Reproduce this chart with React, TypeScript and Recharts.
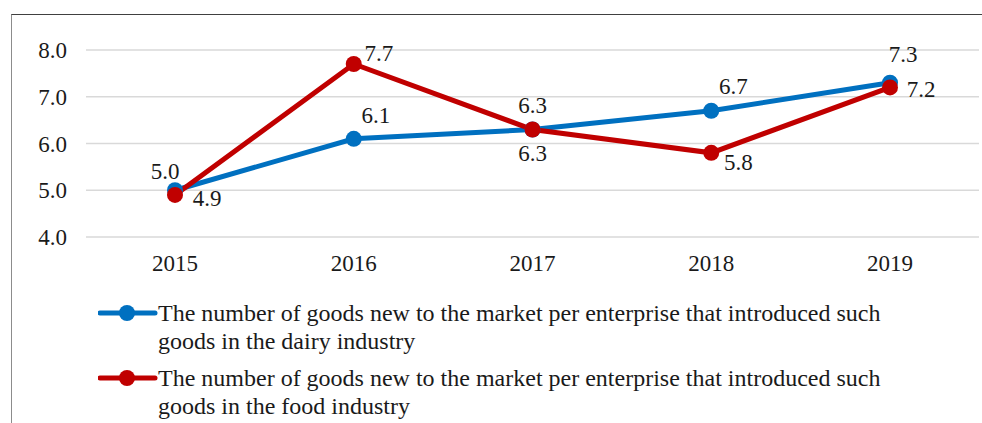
import { LineChart, Line, XAxis, YAxis, CartesianGrid, LabelList } from 'recharts';

const years = ['2015', '2016', '2017', '2018', '2019'];
const dairy = [5.0, 6.1, 6.3, 6.7, 7.3];
const food = [4.9, 7.7, 6.3, 5.8, 7.2];
const yTicks = [4, 5, 6, 7, 8];

const dairyName =
    'The number of goods new to the market per enterprise that introduced such goods in the dairy industry';
const foodName =
    'The number of goods new to the market per enterprise that introduced such goods in the food industry';

const BLUE = '#0070C0';
const RED = '#C00000';
const FONT = 'Liberation Serif, DejaVu Serif';
const TEXT = '#1a1a1a';

const data = years.map((year, i) => ({ year, dairy: dairy[i], food: food[i] }));

// where each value label sits relative to its point
const dairyOffsets = [
    [-10, -19],
    [22, -23],
    [0, -24],
    [22, -24],
    [13, -28],
];
const foodOffsets = [
    [32, 4],
    [25, -11],
    [0, 24],
    [27, 10],
    [31, 2],
];

const makeLabel = (offsets: number[][]) => (props: any) => {
    const { x, y, value, index } = props;
    const [dx, dy] = offsets[index] || [0, -20];
    return (
        <text
            x={x + dx}
            y={y + dy}
            textAnchor="middle"
            dominantBaseline="central"
            fontFamily={FONT}
            fontSize={23}
            fill={TEXT}
        >
            {Number(value).toFixed(1)}
        </text>
    );
};

const LegendItem = ({ color, text }: { color: string; text: string }) => (
    <div style={{ display: 'flex', alignItems: 'flex-start', marginBottom: 9 }}>
        <svg width={60} height={28} style={{ flex: '0 0 auto' }}>
            <line x1={2} y1={14} x2={57} y2={14} stroke={color} strokeWidth={5} strokeLinecap="round" />
            <circle cx={29} cy={14} r={8} fill={color} />
        </svg>
        <div style={{ width: 735, lineHeight: '28px' }}>{text}</div>
    </div>
);

export default function App() {
    return (
        <div
            style={{
                position: 'absolute',
                left: 0,
                top: 0,
                width: 982,
                height: 423,
                overflow: 'hidden',
                background: '#fff',
            }}
        >
            <div
                style={{
                    position: 'absolute',
                    left: 11,
                    top: 14,
                    width: 1000,
                    height: 500,
                    borderLeft: '1px solid #8c8c8c',
                    borderTop: '1px solid #404040',
                }}
            />
            <div style={{ position: 'absolute', left: 0, top: 0 }}>
                <LineChart
                    width={982}
                    height={423}
                    data={data}
                    margin={{ top: 50, right: 3, left: 0, bottom: 156 }}
                >
                    <CartesianGrid vertical={false} stroke="#d9d9d9" strokeWidth={1.5} />
                    <XAxis
                        dataKey="year"
                        axisLine={false}
                        tickLine={false}
                        tickSize={0}
                        tickMargin={18}
                        height={30}
                        padding={{ left: 89, right: 89 }}
                        tick={{ fontFamily: FONT, fontSize: 23, fill: TEXT }}
                    />
                    <YAxis
                        domain={[4, 8]}
                        ticks={yTicks}
                        width={86}
                        axisLine={false}
                        tickLine={false}
                        tickSize={0}
                        tickMargin={19}
                        tickFormatter={(v: number) => v.toFixed(1)}
                        tick={{ fontFamily: FONT, fontSize: 23, fill: TEXT }}
                    />
                    <Line
                        dataKey="dairy"
                        name={dairyName}
                        stroke={BLUE}
                        strokeWidth={5}
                        dot={{ r: 8, fill: BLUE, stroke: 'none' }}
                        isAnimationActive={false}
                    >
                        <LabelList dataKey="dairy" content={makeLabel(dairyOffsets)} />
                    </Line>
                    <Line
                        dataKey="food"
                        name={foodName}
                        stroke={RED}
                        strokeWidth={5}
                        dot={{ r: 8, fill: RED, stroke: 'none' }}
                        isAnimationActive={false}
                    >
                        <LabelList dataKey="food" content={makeLabel(foodOffsets)} />
                    </Line>
                </LineChart>
            </div>
            <div
                style={{
                    position: 'absolute',
                    left: 98,
                    top: 299,
                    fontFamily: FONT,
                    fontSize: 24,
                    color: TEXT,
                }}
            >
                <LegendItem color={BLUE} text={dairyName} />
                <LegendItem color={RED} text={foodName} />
            </div>
        </div>
    );
}
